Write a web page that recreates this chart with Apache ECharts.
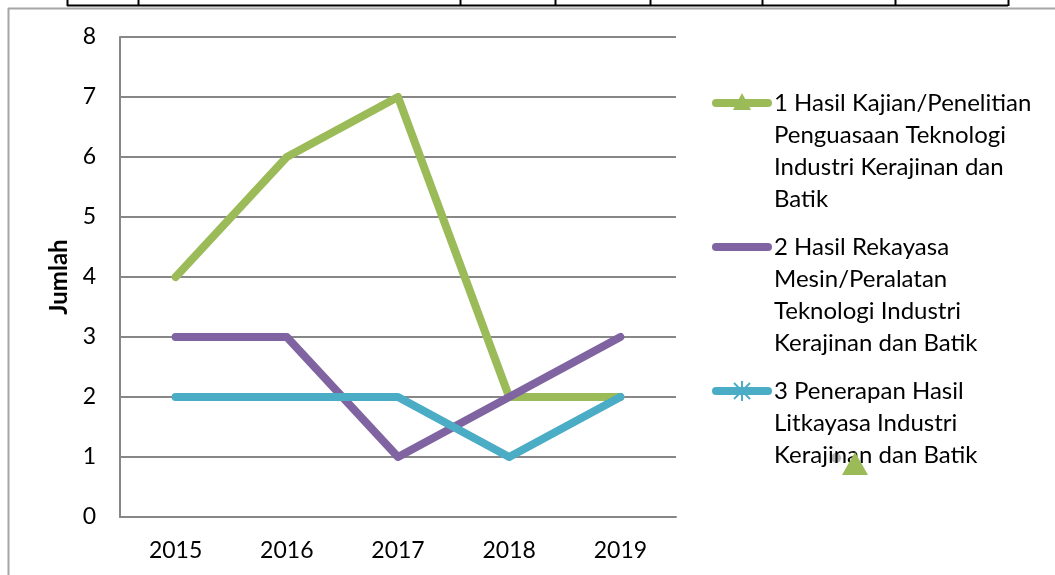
<!DOCTYPE html>
<html>
<head>
<meta charset="utf-8">
<script src="https://cdn.jsdelivr.net/npm/echarts@6/dist/echarts.min.js"></script>
<style>
    html, body { margin: 0; padding: 0; background: #fff; }
    #main { width: 1055px; height: 575px; }
</style>
</head>
<body>
<div id="main"></div>
<script>
// data
var years = ['2015', '2016', '2017', '2018', '2019'];
var seriesNames = [
    '1 Hasil Kajian/Penelitian\nPenguasaan Teknologi\nIndustri Kerajinan dan\nBatik',
    '2 Hasil Rekayasa\nMesin/Peralatan\nTeknologi Industri\nKerajinan dan Batik',
    '3 Penerapan Hasil\nLitkayasa Industri\nKerajinan dan Batik'
];
var kajian = [4, 6, 7, 2, 2];
var rekayasa = [3, 3, 1, 2, 3];
var penerapan = [2, 2, 2, 1, 2];
var yTicks = ['0', '1', '2', '3', '4', '5', '6', '7', '8'];

var colors = ['#9BBB59', '#8064A2', '#4BACC6'];
var font = 'Lato, "Open Sans", sans-serif';
var gray = '#878787';

var myChart = echarts.init(document.getElementById('main'));

//---------legend drawn by hand (icon sits on first line of text)
var legendY = [103, 247, 391];
var legendGraphics = [];
for (var i = 0; i < seriesNames.length; i++) {
    legendGraphics.push({
        type: 'line',
        shape: { x1: 716, y1: legendY[i], x2: 768, y2: legendY[i] },
        style: { stroke: colors[i], lineWidth: 8, lineCap: 'round' }
    });
    legendGraphics.push({
        type: 'text',
        x: 774,
        y: legendY[i] - 16,
        style: {
            text: seriesNames[i],
            font: '24px ' + font,
            fill: '#000',
            lineHeight: 32,
            verticalAlign: 'top'
        }
    });
}
// triangle marker on legend 1
legendGraphics.push({
    type: 'polygon',
    shape: { points: [[742, 93], [733, 110], [751, 110]] },
    style: { fill: colors[0] }
});
// asterisk marker on legend 3
legendGraphics.push({
    type: 'group',
    children: [
        { type: 'line', shape: { x1: 734, y1: 383, x2: 750, y2: 399 }, style: { stroke: colors[2], lineWidth: 2 } },
        { type: 'line', shape: { x1: 750, y1: 383, x2: 734, y2: 399 }, style: { stroke: colors[2], lineWidth: 2 } },
        { type: 'line', shape: { x1: 742, y1: 381, x2: 742, y2: 401 }, style: { stroke: colors[2], lineWidth: 2 } }
    ]
});
// stray smudge + triangle near last legend text
legendGraphics.push({
    type: 'circle',
    shape: { cx: 836, cy: 458, r: 5 },
    style: { fill: 'rgba(0,0,0,0.25)', shadowBlur: 12, shadowColor: 'rgba(0,0,0,0.5)' }
});
legendGraphics.push({
    type: 'polygon',
    shape: { points: [[855, 452], [842, 475], [868, 475]] },
    style: { fill: colors[0] }
});
// frame of the surrounding document
legendGraphics.push({
    type: 'line',
    shape: { x1: 8, y1: 8.5, x2: 1055, y2: 8.5 },
    style: { stroke: '#a6a6a6', lineWidth: 2 }
});
legendGraphics.push({
    type: 'line',
    shape: { x1: 8.5, y1: 8, x2: 8.5, y2: 575 },
    style: { stroke: '#a6a6a6', lineWidth: 2 }
});
legendGraphics.push({
    type: 'line',
    shape: { x1: 67, y1: 5.5, x2: 1008, y2: 5.5 },
    style: { stroke: '#000', lineWidth: 2 }
});
var tableCols = [67, 138, 460, 555, 650, 762, 895, 1008];
for (var k = 0; k < tableCols.length; k++) {
    legendGraphics.push({
        type: 'line',
        shape: { x1: tableCols[k] + 0.5, y1: 0, x2: tableCols[k] + 0.5, y2: 6 },
        style: { stroke: '#000', lineWidth: 2 }
    });
}

var option = {
    animation: false,
    backgroundColor: '#fff',
    grid: { left: 120, right: 379, top: 37, bottom: 58 },
    xAxis: {
        type: 'category',
        data: years,
        boundaryGap: true,
        axisLine: { lineStyle: { color: gray, width: 2 } },
        axisTick: { show: false },
        axisLabel: { color: '#000', fontSize: 23, fontFamily: font, margin: 22 }
    },
    yAxis: {
        type: 'value',
        min: 0,
        max: 8,
        interval: 1,
        name: 'Jumlah',
        nameLocation: 'middle',
        nameRotate: 90,
        nameGap: 44,
        nameTextStyle: { color: '#000', fontSize: 24, fontWeight: 'bold', fontFamily: font },
        axisLine: { show: true, lineStyle: { color: gray, width: 2 } },
        axisTick: { show: false },
        splitLine: { lineStyle: { color: gray, width: 2 } },
        axisLabel: {
            color: '#000', fontSize: 23, fontFamily: font, margin: 24,
            formatter: function(v) { return yTicks[v]; }
        }
    },
    series: [{
        name: seriesNames[0],
        type: 'line',
        data: kajian,
        symbol: 'triangle',
        showSymbol: false,
        lineStyle: { color: colors[0], width: 8, cap: 'round', join: 'round' },
        itemStyle: { color: colors[0] }
    }, {
        name: seriesNames[1],
        type: 'line',
        data: rekayasa,
        symbol: 'none',
        lineStyle: { color: colors[1], width: 8, cap: 'round', join: 'round' },
        itemStyle: { color: colors[1] }
    }, {
        name: seriesNames[2],
        type: 'line',
        data: penerapan,
        showSymbol: false,
        lineStyle: { color: colors[2], width: 8, cap: 'round', join: 'round' },
        itemStyle: { color: colors[2] }
    }],
    graphic: legendGraphics
};

myChart.setOption(option);
</script>
</body>
</html>
